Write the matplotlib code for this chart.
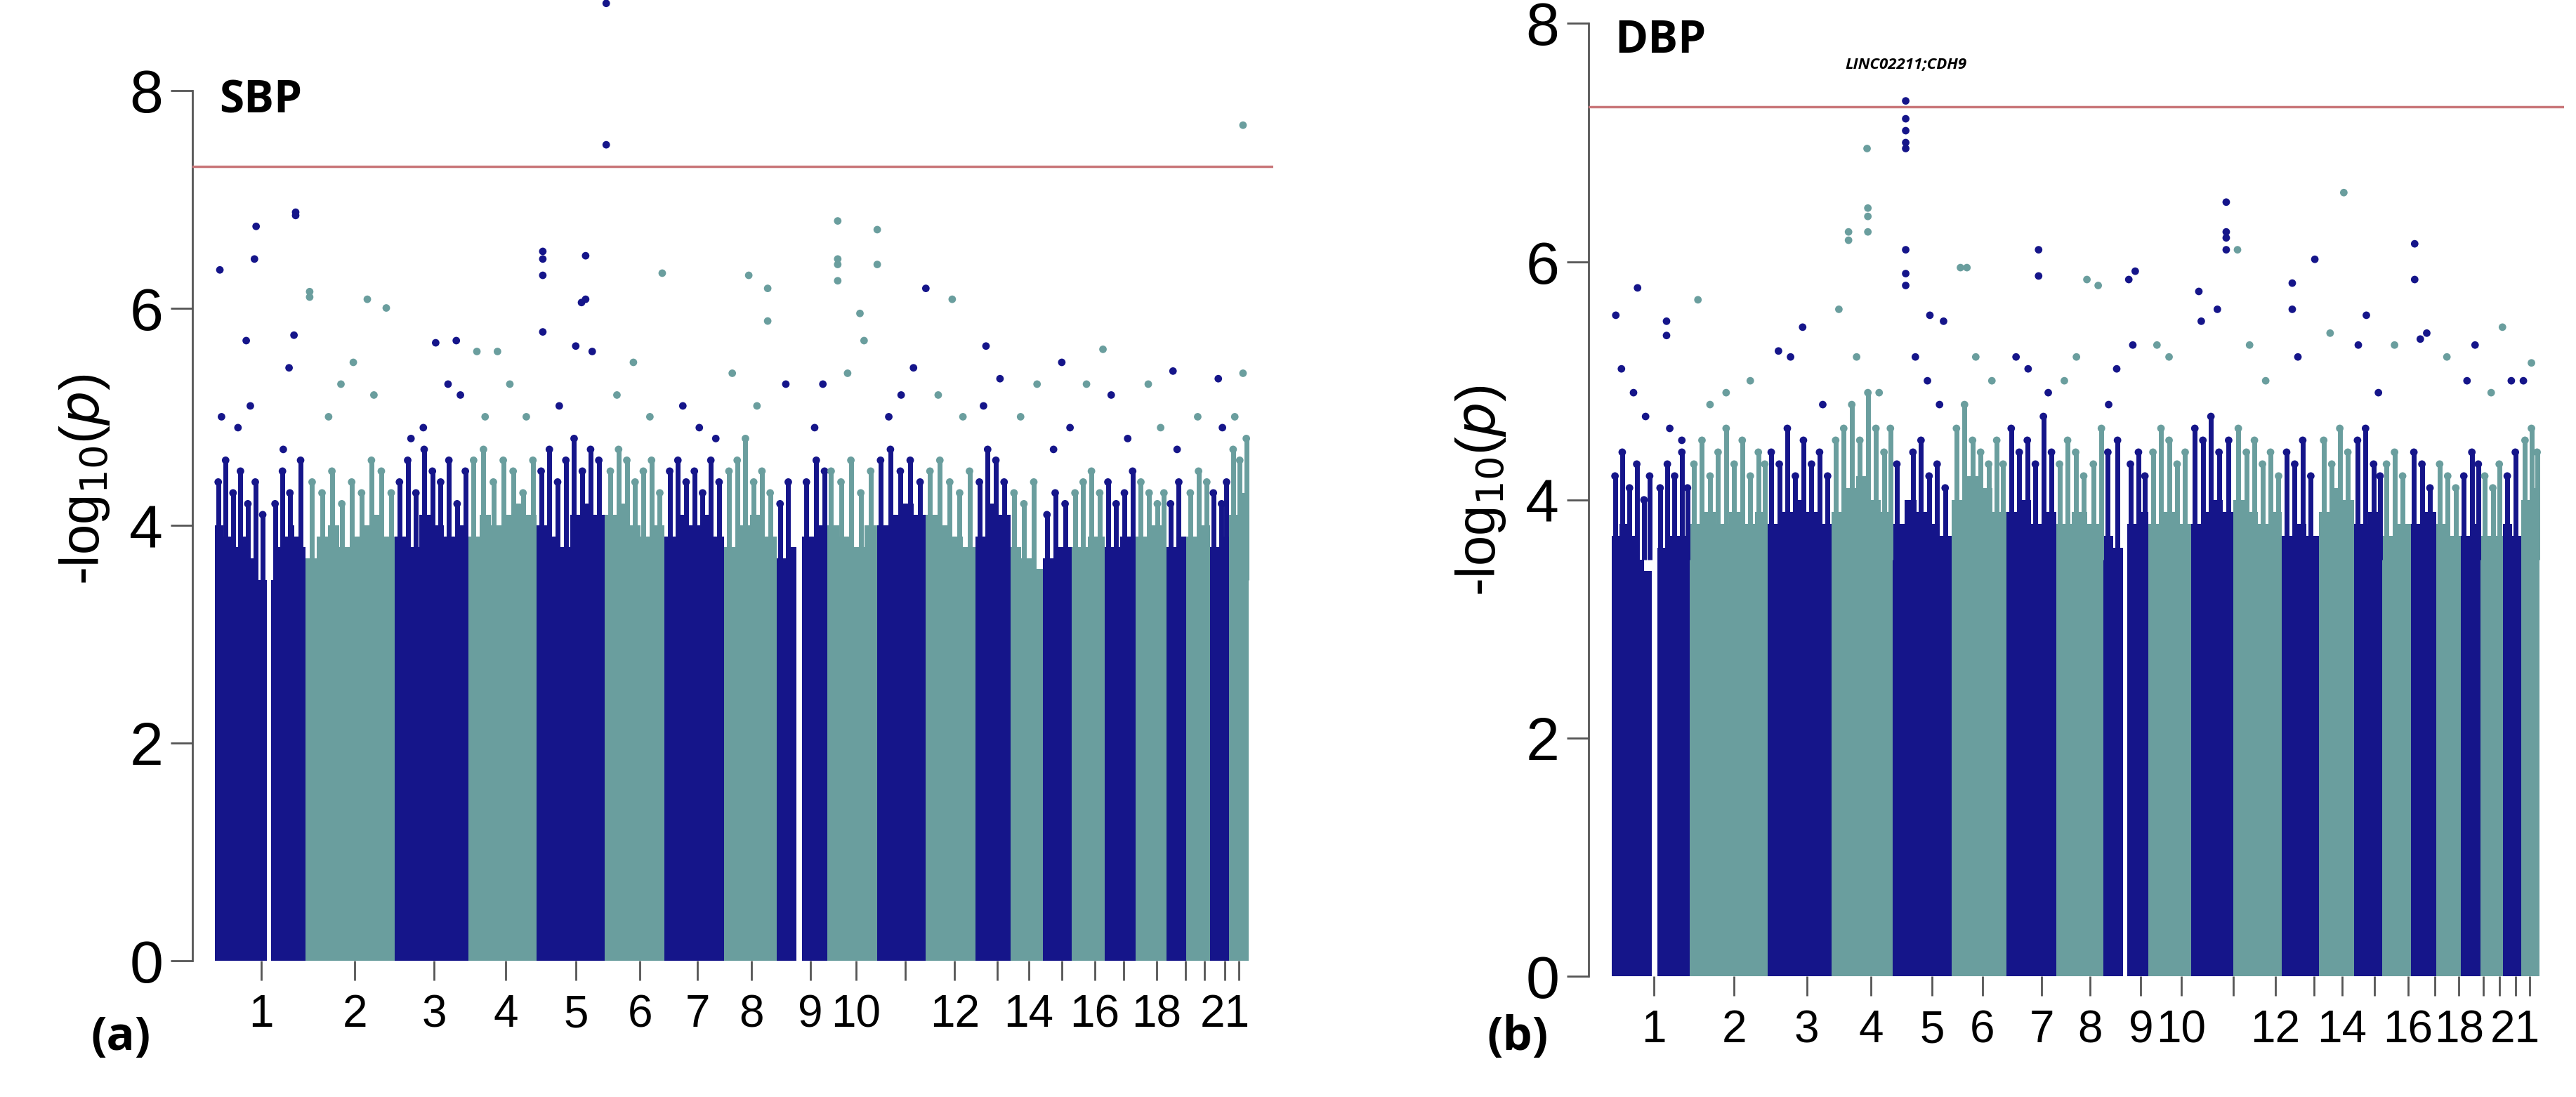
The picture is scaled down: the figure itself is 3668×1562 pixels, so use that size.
import matplotlib
matplotlib.use("Agg")
import matplotlib.pyplot as plt

NAVY = "#15158a"
TEAL = "#6a9e9e"
RED = "#c9777a"

chrom_labels = ["1","2","3","4","5","6","7","8","9","10","","12","","14","","16","","18","","","21",""]

# ---------------- SBP (panel a) ----------------
sbp_ticks = [318,432,528,615,700,778,848,913,985,1040,1100,1160,1212,1250,1290,1330,1365,1405,1440,1463,1488,1505]
sbp_seg_start = [262,330,372,480,570,652,735,808,880,944,975,1005,1066,1125,1185,1228,1267,1302,1342,1380,1417,1441,1470,1493]
sbp_seg_end   = [325,372,480,570,652,735,808,880,944,968,1005,1066,1125,1185,1228,1267,1302,1342,1380,1417,1441,1470,1493,1517]
sbp_seg_col   = ["n","n","t","n","t","n","t","n","t","n","n","t","n","t","n","t","n","t","n","t","n","t","n","t"]
sbp_seg_h = [[4.0,3.9,3.8,3.9,3.7,3.5],[3.5,3.8,3.9,4.0,3.9,3.8],[3.7,3.9,4.0,3.8,3.9,4.0,4.1,3.9],
             [3.9,3.8,4.1,4.0,3.9,4.0],[3.9,4.1,4.0,4.1,4.2,4.1],[4.0,3.9,3.8,4.1,4.2,4.1],
             [4.1,4.2,4.0,3.9,4.0],[3.9,4.1,4.0,4.1,3.9],[3.8,4.0,4.1,3.9],[3.7,3.8],[3.9,4.0],
             [4.0,3.9,3.8,4.0],[4.0,4.1,4.2,4.1],[4.1,4.0,3.9,3.8],[3.9,4.2,4.1],[3.8,3.7,3.6],
             [3.7,3.8],[3.8,3.9],[3.8,3.9],[3.9,4.0],[3.8,3.9],[3.9,4.0],[3.8,3.9],[4.1,4.3]]
sbp_pt_x = [268,312,310,360,360,377,377,447,470,660,660,660,660,712,707,712,737,737,805,910,933,933,
            1018,1018,1018,1018,1066,1066,1125,1157,1510,1045,1198,300,358,1510,1480,1425,1290,1340,530,555,
            580,605,270,290,305,345,352,400,415,430,455,500,515,545,560,590,620,640,680,700,720,750,770,790,
            830,850,870,890,920,955,990,1000,1030,1050,1080,1095,1110,1140,1170,1195,1215,1240,1260,1280,
            1300,1320,1350,1370,1395,1410,1430,1455,1485,1500]
sbp_pt_y = [6.35,6.75,6.45,6.88,6.85,6.15,6.1,6.08,6.0,6.52,6.45,6.3,5.78,6.48,6.05,6.08,8.8,7.5,6.32,6.3,6.18,5.88,
            6.8,6.45,6.4,6.25,6.72,6.4,6.18,6.08,7.68,5.95,5.65,5.7,5.75,5.4,5.35,5.42,5.5,5.62,5.68,5.7,
            5.6,5.6,5.0,4.9,5.1,4.7,5.45,5.0,5.3,5.5,5.2,4.8,4.9,5.3,5.2,5.0,5.3,5.0,5.1,5.65,5.6,5.2,5.5,5.0,
            5.1,4.9,4.8,5.4,5.1,5.3,4.9,5.3,5.4,5.7,5.0,5.2,5.45,5.2,5.0,5.1,5.35,5.0,5.3,4.7,
            4.9,5.3,5.2,4.8,5.3,4.9,4.7,5.0,4.9,5.0]
# dense fringe just above the bulk
sbp_fr_x = [266,275,284,293,302,311,320,335,344,353,366,380,392,404,416,428,440,452,464,476,
            486,496,506,516,526,536,546,556,566,576,588,600,612,624,636,648,658,668,678,688,698,708,718,728,
            742,752,762,772,782,792,802,814,824,834,844,854,864,874,886,896,906,916,926,936,948,958,980,992,1002,
            1010,1022,1034,1046,1058,1070,1082,1094,1106,1118,1130,1142,1154,1166,1178,1190,1200,1210,1220,
            1232,1244,1256,1272,1282,1294,1306,1316,1326,1336,1346,1356,1366,1376,1386,1396,1406,1414,1422,1432,
            1446,1456,1466,1474,1484,1490,1498,1506,1514]
sbp_fr_y = [4.4,4.6,4.3,4.5,4.2,4.4,4.1,4.2,4.5,4.3,4.6,4.4,4.3,4.5,4.2,4.4,4.3,4.6,4.5,4.3,
            4.4,4.6,4.3,4.7,4.5,4.4,4.6,4.2,4.5,4.6,4.7,4.4,4.6,4.5,4.3,4.6,4.5,4.7,4.4,4.6,4.8,4.5,4.7,4.6,
            4.5,4.7,4.6,4.4,4.5,4.6,4.3,4.5,4.6,4.4,4.5,4.3,4.6,4.4,4.5,4.6,4.8,4.4,4.5,4.3,4.2,4.4,4.4,4.6,4.5,
            4.5,4.4,4.6,4.3,4.5,4.6,4.7,4.5,4.6,4.4,4.5,4.6,4.4,4.3,4.5,4.4,4.7,4.6,4.4,
            4.3,4.2,4.4,4.1,4.3,4.2,4.3,4.4,4.5,4.3,4.4,4.2,4.3,4.5,4.4,4.3,4.2,4.3,4.2,4.4,
            4.3,4.5,4.4,4.3,4.2,4.4,4.7,4.6,4.8]

# ---------------- DBP (panel b) ----------------
dbp_ticks = [420,520,610,690,766,828,902,962,1025,1075,1140,1192,1240,1275,1315,1357,1390,1420,1450,1470,1490,1508]
dbp_seg_start = [368,425,465,562,641,717,790,858,920,978,1008,1034,1087,1140,1200,1246,1290,1325,1360,1392,1422,1447,1475,1497]
dbp_seg_end   = [418,465,562,641,717,790,858,920,978,1003,1034,1087,1140,1200,1246,1290,1325,1360,1392,1422,1447,1475,1497,1520]
dbp_seg_col   = ["n","n","t","n","t","n","t","n","t","n","n","t","n","t","n","t","n","t","n","t","n","t","n","t"]
dbp_seg_h = [[3.7,3.8,3.7,3.5,3.4],[3.6,3.7,3.7],[3.8,3.9,3.8,3.9,3.8,3.9],[3.8,3.9,4.0,3.9,3.8],
             [3.9,4.1,4.2,4.0,3.9],[3.8,4.0,3.9,3.8,3.7],[4.0,4.2,4.1,3.9],[3.9,4.0,3.8,3.9],[3.8,3.9,3.8],
             [3.7,3.6],[3.8,3.9],[3.8,3.9,3.8],[3.8,3.9,4.0,3.9],[4.0,3.9,3.8,3.9],[3.7,3.8,3.7],
             [3.9,4.1,4.0],[3.8,3.9],[3.7,3.8],[3.8,3.9],[3.8,3.7],[3.7,3.8],[3.7,3.7],[3.8,3.7],[4.0,4.1]]
dbp_pt_x = [733,733,733,733,733,685,686,686,686,662,662,733,733,733,373,400,436,436,475,898,898,1018,1010,958,972,
            1131,1131,1131,1131,1145,1277,1241,1213,1213,1365,1365,1510,1474,801,809,763,780,1097,1305,1372,
            380,395,410,440,455,490,510,540,575,590,605,630,650,672,700,745,760,775,820,840,870,885,910,930,945,
            985,995,1015,1045,1060,1100,1120,1160,1180,1220,1260,1295,1320,1340,1380,1405,1430,1440,1460,1485,1500]
dbp_pt_y = [7.35,7.2,7.1,7.0,6.95,6.95,6.45,6.38,6.25,6.25,6.18,6.1,5.9,5.8,5.55,5.78,5.5,5.38,5.68,6.1,5.88,5.92,5.85,5.85,5.8,
            6.5,6.25,6.2,6.1,6.1,6.58,6.02,5.82,5.6,6.15,5.85,5.15,5.45,5.95,5.95,5.55,5.5,5.75,5.55,5.35,
            5.1,4.9,4.7,4.6,4.5,4.8,4.9,5.0,5.25,5.2,5.45,4.8,5.6,5.2,4.9,5.2,5.0,4.8,5.2,5.0,5.2,5.1,4.9,5.0,5.2,
            4.8,5.1,5.3,5.3,5.2,5.5,5.6,5.3,5.0,5.2,5.4,5.3,4.9,5.3,5.4,5.2,5.0,5.3,4.9,5.0,5.0]
dbp_fr_x = [372,381,390,399,408,415,428,437,446,455,462,470,480,490,500,510,520,530,540,550,558,
            566,576,586,596,606,616,626,636,646,656,666,676,686,696,706,714,722,742,752,762,772,782,
            796,806,816,826,836,846,854,864,874,884,894,904,914,924,934,944,954,966,976,984,996,1012,1022,1030,
            1040,1050,1060,1070,1080,1092,1102,1112,1122,1134,1146,1156,1166,1176,1186,1196,1206,1216,1226,1236,
            1252,1262,1272,1282,1294,1304,1314,1322,1330,1340,1350,1364,1374,1384,1396,1406,1416,1426,1436,1444,
            1452,1462,1470,1480,1490,1502,1510,1517]
dbp_fr_y = [4.2,4.4,4.1,4.3,4.0,4.2,4.1,4.3,4.2,4.4,4.1,4.3,4.5,4.2,4.4,4.6,4.3,4.5,4.2,4.4,4.3,
            4.4,4.3,4.6,4.2,4.5,4.3,4.4,4.2,4.5,4.6,4.8,4.5,4.9,4.6,4.4,4.6,4.3,4.4,4.5,4.2,4.3,4.1,
            4.6,4.8,4.5,4.4,4.3,4.5,4.3,4.6,4.4,4.5,4.3,4.7,4.4,4.3,4.5,4.4,4.2,4.3,4.6,4.4,4.5,4.3,4.4,4.2,
            4.4,4.6,4.5,4.3,4.4,4.6,4.5,4.7,4.4,4.5,4.6,4.4,4.5,4.3,4.4,4.2,4.4,4.3,4.5,4.2,
            4.5,4.3,4.6,4.4,4.5,4.6,4.3,4.2,4.3,4.4,4.2,4.4,4.3,4.1,4.3,4.2,4.1,4.2,4.4,4.3,
            4.2,4.1,4.3,4.2,4.4,4.5,4.6,4.4]

W, H = 3668, 1562
fig = plt.figure(figsize=(W/100, H/100), dpi=100)
plt.rcParams['font.family'] = ['Liberation Sans', 'DejaVu Sans']

def panel(rect, xlim, ylim, ticks, ss, se, sc, sh, px, py, fx, fy):
    ax = fig.add_axes(rect)
    col = {"n": NAVY, "t": TEAL}
    for s, e, c, hs in zip(ss, se, sc, sh):
        n = len(hs)
        w = (e - s) / n
        lefts = [s + i * w for i in range(n)]
        ax.bar(lefts, hs, width=w, align="edge", color=col[c], linewidth=0)

    def colours(xs):
        out = []
        for x in xs:
            c = NAVY
            for s, e, k in zip(ss, se, sc):
                if s - 3 <= x <= e + 3:
                    c = col[k]
                    break
            out.append(c)
        return out
    # fringe drawn as short vertical strokes from bulk top to value
    fc = colours(fx)
    for x, y, c in zip(fx, fy, fc):
        ax.vlines(x, 3.5, y, color=c, lw=5)
    ax.scatter(fx, fy, s=60, c=fc, linewidths=0, zorder=3)
    ax.scatter(px, py, s=60, c=colours(px), linewidths=0, zorder=3)
    ax.axhline(7.3, color=RED, lw=2.5, zorder=4)
    ax.set_xlim(*xlim)
    ax.set_ylim(*ylim)
    for sp in ["top", "right", "bottom"]:
        ax.spines[sp].set_visible(False)
    ax.spines["left"].set_bounds(0, 8)
    ax.spines["left"].set_color("#555555")
    ax.spines["left"].set_linewidth(2)
    ax.set_yticks([0, 2, 4, 6, 8])
    ax.tick_params(axis="y", labelsize=62, length=22, width=2, color="#555555", pad=8)
    ax.set_xticks(ticks)
    ax.set_xticklabels(chrom_labels)
    ax.tick_params(axis="x", labelsize=46, length=20, width=2, color="#555555", pad=14)
    ax.set_ylabel("-log$_{10}$($p$)", fontsize=56, labelpad=18)
    return ax

ax1 = panel([274/W, (H-1368)/H, 1539/W, 1371/H], (234.7, 1546.7), (0, 8.85),
            sbp_ticks, sbp_seg_start, sbp_seg_end, sbp_seg_col, sbp_seg_h, sbp_pt_x, sbp_pt_y,
            sbp_fr_x, sbp_fr_y)
ax1.text(267, 7.9, "SBP", fontsize=46, fontweight="bold", family="Open Sans", va="center")

ax2 = panel([2262/W, (H-1390)/H, 1389/W, 1382/H], (339.2, 1550.5), (0, 8.15),
            dbp_ticks, dbp_seg_start, dbp_seg_end, dbp_seg_col, dbp_seg_h, dbp_pt_x, dbp_pt_y,
            dbp_fr_x, dbp_fr_y)
ax2.text(372, 7.85, "DBP", fontsize=46, fontweight="bold", family="Open Sans", va="center")
ax2.text(733, 7.65, "LINC02211;CDH9", fontsize=16, style="italic", fontweight="bold",
         family="Open Sans", ha="center", va="center")

fig.text(129/W, 1-1478/H, "(a)", fontsize=48, fontweight="bold", family="Open Sans", va="center")
fig.text(2117/W, 1-1478/H, "(b)", fontsize=48, fontweight="bold", family="Open Sans", va="center")

fig.savefig("out.png", dpi=100)
